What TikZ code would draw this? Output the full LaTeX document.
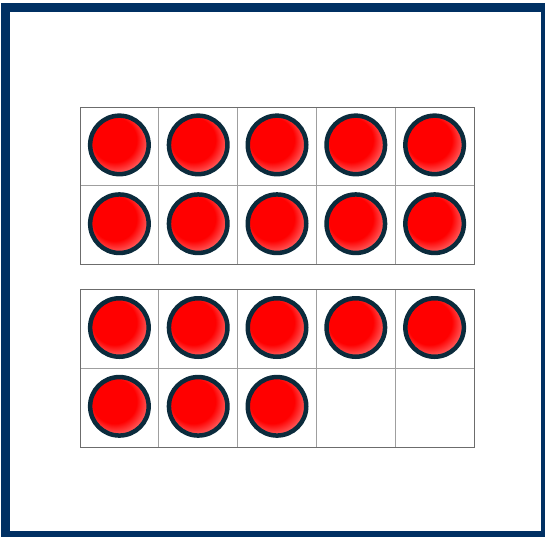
\documentclass[tikz,border=0pt]{standalone}
\usetikzlibrary{positioning}

\definecolor{framecol}{HTML}{003063}
\definecolor{ringcol}{HTML}{0B2B3C}
\pgfdeclareradialshading{redball}{\pgfpoint{-7bp}{7bp}}{%
  color(0bp)=(red); color(19bp)=(red); color(31bp)=(red!50!white); color(50bp)=(white)}

\begin{document}
\begin{tikzpicture}[
    x=1pt, y=-1pt,
    node distance=0pt and 0pt,
    cell/.style={draw=gray!75, line width=0.8pt, minimum width=78.8pt, minimum height=78.8pt, inner sep=0pt, outer sep=0pt},
    counter/.style={circle, draw=ringcol, line width=4.5pt, minimum size=58.5pt, inner sep=0pt, shading=redball},
    outline/.style={draw=gray!85!black, line width=0.9pt},
    frame/.style={draw=framecol, line width=9pt}
  ]
    \useasboundingbox (0,0) rectangle (545,536);
    \draw[frame] (5,7.5) rectangle (545.5,535.5);

    % first ten-frame
    \node[cell] (a1) at (119.4,146.4) {};
    \node[cell, right=of a1] (a2) {};
    \node[cell, right=of a2] (a3) {};
    \node[cell, right=of a3] (a4) {};
    \node[cell, right=of a4] (a5) {};
    \node[cell, below=of a1] (b1) {};
    \node[cell, right=of b1] (b2) {};
    \node[cell, right=of b2] (b3) {};
    \node[cell, right=of b3] (b4) {};
    \node[cell, right=of b4] (b5) {};
    \draw[outline] (a1.north west) rectangle (b5.south east);

    % second ten-frame
    \node[cell] (c1) at (119.4,329) {};
    \node[cell, right=of c1] (c2) {};
    \node[cell, right=of c2] (c3) {};
    \node[cell, right=of c3] (c4) {};
    \node[cell, right=of c4] (c5) {};
    \node[cell, below=of c1] (d1) {};
    \node[cell, right=of d1] (d2) {};
    \node[cell, right=of d2] (d3) {};
    \node[cell, right=of d3] (d4) {};
    \node[cell, right=of d4] (d5) {};
    \draw[outline] (c1.north west) rectangle (d5.south east);

    % counters
    \node[counter] (ka1) at ([yshift=1.5pt]a1) {};
    \node[counter] (ka2) at ([yshift=1.5pt]a2) {};
    \node[counter] (ka3) at ([yshift=1.5pt]a3) {};
    \node[counter] (ka4) at ([yshift=1.5pt]a4) {};
    \node[counter] (ka5) at ([yshift=1.5pt]a5) {};
    \node[counter] (kb1) at ([yshift=1.5pt]b1) {};
    \node[counter] (kb2) at ([yshift=1.5pt]b2) {};
    \node[counter] (kb3) at ([yshift=1.5pt]b3) {};
    \node[counter] (kb4) at ([yshift=1.5pt]b4) {};
    \node[counter] (kb5) at ([yshift=1.5pt]b5) {};
    \node[counter] (kc1) at ([yshift=1.5pt]c1) {};
    \node[counter] (kc2) at ([yshift=1.5pt]c2) {};
    \node[counter] (kc3) at ([yshift=1.5pt]c3) {};
    \node[counter] (kc4) at ([yshift=1.5pt]c4) {};
    \node[counter] (kc5) at ([yshift=1.5pt]c5) {};
    \node[counter] (kd1) at ([yshift=1.5pt]d1) {};
    \node[counter] (kd2) at ([yshift=1.5pt]d2) {};
    \node[counter] (kd3) at ([yshift=1.5pt]d3) {};
  \end{tikzpicture}
\end{document}
